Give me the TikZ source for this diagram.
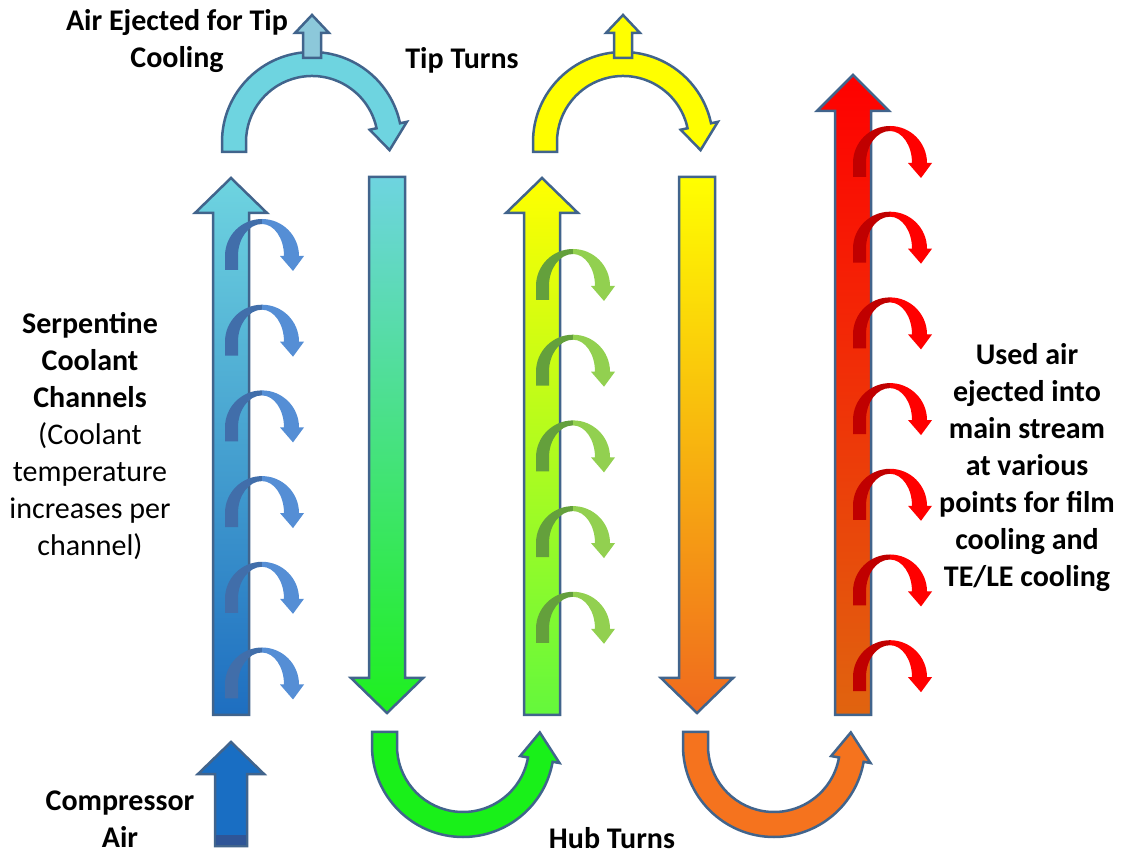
\documentclass[tikz,border=0pt]{standalone}
\usepackage[usenames,dvipsnames]{xcolor}
\usepackage{fontspec}
\setmainfont{Carlito}
\usepackage{tikz}

\definecolor{rim}{RGB}{65,100,140}
\definecolor{cyanlite}{RGB}{110,212,224}
\definecolor{cyanmid}{RGB}{85,185,218}
\definecolor{deepblue}{RGB}{30,110,192}
\definecolor{leafgreen}{RGB}{30,240,30}
\definecolor{limegreen}{RGB}{100,248,60}
\definecolor{sunyellow}{RGB}{255,255,0}
\definecolor{burntorange}{RGB}{240,105,30}
\definecolor{hotred}{RGB}{255,0,0}
\definecolor{rust}{RGB}{224,100,15}
\definecolor{hubgreen}{RGB}{25,240,25}
\definecolor{huborange}{RGB}{245,115,30}
\definecolor{ventblue}{RGB}{140,200,218}
\definecolor{compblue}{RGB}{25,110,195}
\definecolor{compdark}{RGB}{47,85,151}
\definecolor{curlbluedark}{RGB}{65,110,170}
\definecolor{curlblue}{RGB}{85,142,213}
\definecolor{curlgreendark}{RGB}{100,160,60}
\definecolor{curlgreen}{RGB}{146,208,80}
\definecolor{curlreddark}{RGB}{192,0,0}
\definecolor{curlred}{RGB}{255,0,0}

\tikzset{
  block/.style={draw=rim, line width=2.5pt},
  lbl/.style={align=center, inner sep=0pt, font=\fontsize{30}{37}\selectfont\bfseries},
  pics/curl/.style 2 args={code={
    \fill[#1] (-37,-14) -- (-37,0) arc[start angle=180,end angle=90,radius=37]
      -- (0,32) arc[start angle=90,end angle=180,x radius=24,y radius=32] -- (-24,-14) -- cycle;
    \fill[#2] (0,37) arc[start angle=90,end angle=0,radius=37]
      -- (42,0) -- (31,-15) -- (18,0) -- (22,0)
      arc[start angle=0,end angle=90,x radius=22,y radius=32] -- cycle;
  }}
}

\begin{document}
\begin{tikzpicture}[x=1pt,y=1pt]
   \useasboundingbox (0,0) rectangle (1123,856);

   % channels
   \path[block, top color=cyanlite, middle color=cyanmid, bottom color=deepblue] (213,141) -- (213,643) -- (195,643) -- (231,678) -- (267,643) -- (249,643) -- (249,141) -- cycle;
   \path[block, top color=cyanlite, bottom color=leafgreen] (369,679) -- (369,178) -- (351,178) -- (387,143) -- (423,178) -- (405,178) -- (405,679) -- cycle;
   \path[block, top color=sunyellow, bottom color=limegreen] (524,141) -- (524,643) -- (506,643) -- (542,678) -- (578,643) -- (560,643) -- (560,141) -- cycle;
   \path[block, top color=sunyellow, bottom color=burntorange] (679,679) -- (679,178) -- (661,178) -- (697,143) -- (733,178) -- (715,178) -- (715,679) -- cycle;
   \path[block, top color=hotred, bottom color=rust] (835,141) -- (835,745) -- (817,745) -- (853,781) -- (889,745) -- (871,745) -- (871,141) -- cycle;

   % tip turns
   \path[block, fill=cyanlite, shift={(312,714)}] (-90,-10) -- (-90,0) arc[start angle=180,end angle=12,radius=90] -- (12:97) -- (-6:78) -- (12:59) -- (12:66) arc[start angle=12,end angle=180,radius=66] -- (-66,-10) -- cycle;
   \path[block, fill=sunyellow, shift={(623,714)}] (-90,-10) -- (-90,0) arc[start angle=180,end angle=12,radius=90] -- (12:97) -- (-6:78) -- (12:59) -- (12:66) arc[start angle=12,end angle=180,radius=66] -- (-66,-10) -- cycle;
   \path[block, fill=ventblue] (303,798) -- (303,823) -- (295,823) -- (312,841) -- (329,823) -- (321,823) -- (321,798) -- cycle;
   \path[block, fill=sunyellow] (614,798) -- (614,823) -- (606,823) -- (623,841) -- (640,823) -- (632,823) -- (632,798) -- cycle;

   % hub turns
   \path[block, fill=hubgreen, shift={(463,110)}] (-91,14) -- (-91,0) arc[start angle=180,end angle=350,radius=91] -- (-10:98) -- (10:78) -- (-10:58) -- (-10:66) arc[start angle=350,end angle=180,radius=66] -- (-66,14) -- cycle;
   \path[block, fill=huborange, shift={(774,110)}] (-91,14) -- (-91,0) arc[start angle=180,end angle=350,radius=91] -- (-10:98) -- (10:78) -- (-10:58) -- (-10:66) arc[start angle=350,end angle=180,radius=66] -- (-66,14) -- cycle;

   % compressor inlet
   \path[block, fill=compblue] (215,10) -- (215,82) -- (198,82) -- (231,114) -- (264,82) -- (247,82) -- (247,10) -- cycle;
   \fill[compdark] (216.3,11.3) rectangle (245.7,21);

   % film cooling bleeds
   \foreach \y in {600,514.3,428.6,342.9,257.2,171.5}
     \pic at (262,\y) {curl={curlbluedark}{curlblue}};
   \foreach \y in {570,484.3,398.6,312.9,227.2}
     \pic at (573,\y) {curl={curlgreendark}{curlgreen}};
   \foreach \y in {693,607.3,521.6,435.9,350.2,264.5,178.8}
     \pic at (890,\y) {curl={curlreddark}{curlred}};

   \draw (177,815) node[lbl] (aireject) {Air Ejected for Tip\\Cooling};
   \draw (462,796) node[lbl] (tipturns) {Tip Turns};
   \draw (90,420) node[lbl] (serpentine) {Serpentine\\Coolant\\Channels\\\mdseries(Coolant\\\mdseries temperature\\\mdseries increases per\\\mdseries channel)};
   \draw (1027,388) node[lbl] (usedair) {Used air\\ejected into\\main stream\\at various\\points for film\\cooling and\\TE/LE cooling};
   \draw (120,37) node[lbl] (compressor) {Compressor\\Air};
   \draw (612,18) node[lbl] (hubturns) {Hub Turns};
\end{tikzpicture}
\end{document}
